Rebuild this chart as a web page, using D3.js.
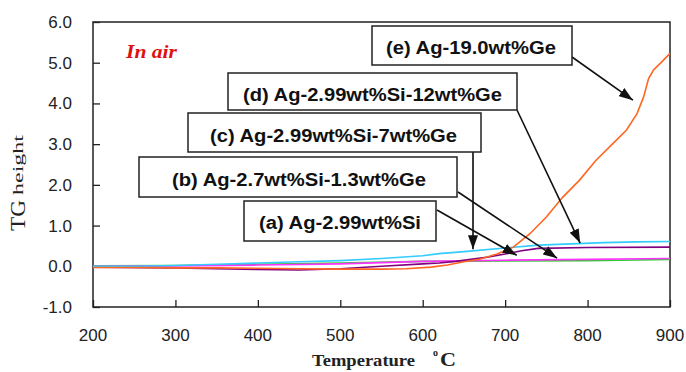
<!DOCTYPE html>
<html><head><meta charset="utf-8">
<script src="https://cdn.jsdelivr.net/npm/d3@7"></script>
<style>html,body{margin:0;padding:0;background:#fff;}svg{display:block;}</style>
</head><body>
<script>
// ---- data ----
const xTicks = [200,300,400,500,600,700,800,900];
const yTicks = [-1,0,1,2,3,4,5,6];

const tempE = [200,250,300,350,400,450,500,550,580,610,630,650,670,690,710,730,750,770,790,810,830,847,860,868,874,880,890,900];
const valE  = [-0.03,-0.03,-0.04,-0.04,-0.05,-0.06,-0.07,-0.07,-0.06,-0.02,0.03,0.11,0.18,0.30,0.47,0.80,1.21,1.70,2.11,2.60,3.00,3.34,3.75,4.16,4.61,4.82,5.02,5.23];

const tempC = [200,250,300,350,400,450,500,550,600,620,650,700,740,780,820,860,900];
const valC  = [0.0,0.0,0.02,0.05,0.08,0.11,0.14,0.19,0.26,0.31,0.36,0.45,0.52,0.55,0.58,0.60,0.61];

const tempD = [200,300,400,450,500,550,600,620,640,670,680,700,720,740,800,900];
const valD  = [-0.02,-0.04,-0.08,-0.09,-0.06,0.0,0.06,0.08,0.12,0.20,0.23,0.30,0.38,0.44,0.46,0.47];

const tempB = [200,300,400,500,600,700,800,900];
const valB  = [0.0,0.01,0.03,0.06,0.12,0.15,0.17,0.19];

const tempA = [200,300,400,500,600,700,800,840,900];
const valA  = [0.01,0.02,0.05,0.08,0.12,0.13,0.14,0.15,0.17];

const seriesNames = ["(a) Ag-2.99wt%Si","(b) Ag-2.7wt%Si-1.3wt%Ge","(c) Ag-2.99wt%Si-7wt%Ge","(d) Ag-2.99wt%Si-12wt%Ge","(e) Ag-19.0wt%Ge"];
// arrow tips in data coordinates (temperature, TG)
const tipT = [714, 763, 661, 791, 855];
const tipV = [0.27, 0.20, 0.42, 0.57, 4.08];

// ---- layout ----
const W = 686, H = 372;
const m = {l:93, t:22, r:670, b:307};
const x = d3.scaleLinear().domain([200,900]).range([m.l, m.r]);
const y = d3.scaleLinear().domain([-1,6]).range([m.b, m.t]);

const svg = d3.select("body").append("svg").attr("width",W).attr("height",H);
svg.append("rect").attr("width",W).attr("height",H).attr("fill","#fff");

svg.append("defs").append("marker")
  .attr("id","ah").attr("markerUnits","userSpaceOnUse")
  .attr("viewBox","0 0 14 10").attr("refX",14).attr("refY",5)
  .attr("markerWidth",14).attr("markerHeight",10).attr("orient","auto")
  .append("path").attr("d","M0,0 L14,5 L0,10 Z").attr("fill","#111");

// axes
const axL = svg.append("g").attr("transform",`translate(${m.l},0)`)
  .call(d3.axisRight(y).tickValues(yTicks).tickSize(7).tickFormat(""));
const axB = svg.append("g").attr("transform",`translate(0,${m.b})`)
  .call(d3.axisTop(x).tickValues(xTicks).tickSize(7).tickFormat(""));
[axL,axB].forEach(g=>{g.select(".domain").remove();g.selectAll("line").attr("stroke","#222").attr("stroke-width",1.3);});

svg.append("rect").attr("x",m.l).attr("y",m.t).attr("width",m.r-m.l).attr("height",m.b-m.t)
  .attr("fill","none").attr("stroke","#222").attr("stroke-width",1.5);

// tick labels
svg.append("g").selectAll("text").data(yTicks).join("text")
  .attr("x",72).attr("y",d=>y(d)+6).attr("text-anchor","end")
  .attr("font-family","Liberation Sans, Arial, sans-serif").attr("font-size",17).attr("fill","#222")
  .text(d=>d3.format(".1f")(d).replace("−","-"));
svg.append("g").selectAll("text").data(xTicks).join("text")
  .attr("x",d=>x(d)).attr("y",341).attr("text-anchor","middle")
  .attr("font-family","Liberation Sans, Arial, sans-serif").attr("font-size",17).attr("fill","#222")
  .text(d=>d);

// series
const line = d3.line().x(d=>x(d[0])).y(d=>y(d[1]));
const zip = (a,b)=>a.map((t,i)=>[t,b[i]]);
const series = [
  {t:tempA,v:valA,c:"#33cc33"},
  {t:tempB,v:valB,c:"#ff33ff"},
  {t:tempD,v:valD,c:"#800080"},
  {t:tempC,v:valC,c:"#33ccff"},
  {t:tempE,v:valE,c:"#ff6622"}
];
series.forEach(s=>{
  svg.append("path").attr("d",line(zip(s.t,s.v))).attr("fill","none")
    .attr("stroke",s.c).attr("stroke-width",1.6);
});

// annotation boxes (layout)
const boxes = [
  {x0:244,y0:201,x1:436,y1:241,tx:259,tw:162,by:228, ax:437, ay:210},
  {x0:139,y0:157,x1:457,y1:197,tx:172,tw:254,by:185, ax:458, ay:192},
  {x0:188,y0:113,x1:481,y1:152,tx:210,tw:247,by:141, ax:473, ay:152},
  {x0:228,y0:73, x1:517,y1:110,tx:243,tw:259,by:100, ax:517, ay:110},
  {x0:372,y0:26, x1:572,y1:65, tx:386,tw:170,by:53,  ax:572, ay:57}
];
boxes.forEach((b,i)=>{
  svg.append("line").attr("x1",b.ax).attr("y1",b.ay)
    .attr("x2",x(tipT[i])).attr("y2",y(tipV[i]))
    .attr("stroke","#111").attr("stroke-width",1.6).attr("marker-end","url(#ah)");
});
boxes.forEach((b,i)=>{
  svg.append("rect").attr("x",b.x0).attr("y",b.y0).attr("width",b.x1-b.x0).attr("height",b.y1-b.y0)
    .attr("fill","#fff").attr("stroke","#222").attr("stroke-width",1.5);
  svg.append("text").attr("x",b.tx).attr("y",b.by+0.5)
    .attr("font-family","Liberation Sans, Arial, sans-serif").attr("font-weight","bold")
    .attr("font-size",18).attr("fill","#111")
    .attr("textLength",b.tw).attr("lengthAdjust","spacingAndGlyphs")
    .text(seriesNames[i]);
});

// In air
svg.append("text").attr("x",126).attr("y",58)
  .attr("font-family","Liberation Serif, Times New Roman, serif").attr("font-weight","bold").attr("font-style","italic")
  .attr("font-size",18).attr("fill","#dd1111").attr("textLength",51).attr("lengthAdjust","spacingAndGlyphs")
  .text("In air");

// axis titles
const yt = svg.append("text").attr("transform","translate(25,231) rotate(-90)")
  .attr("font-family","Liberation Serif, Times New Roman, serif").attr("fill","#222");
yt.append("tspan").attr("font-size",20).attr("textLength",31).attr("lengthAdjust","spacingAndGlyphs").text("TG");
yt.append("tspan").attr("font-size",14).attr("dx",5).attr("dy",-2).attr("textLength",60).attr("lengthAdjust","spacingAndGlyphs").text("height");

svg.append("text").attr("x",312).attr("y",366)
  .attr("font-family","Liberation Serif, Times New Roman, serif").attr("font-weight","bold")
  .attr("font-size",17).attr("fill","#222").attr("textLength",103).attr("lengthAdjust","spacingAndGlyphs")
  .text("Temperature");
svg.append("text").attr("x",433).attr("y",356)
  .attr("font-family","Liberation Serif, Times New Roman, serif").attr("font-weight","bold")
  .attr("font-size",10).attr("fill","#222").text("o");
svg.append("text").attr("x",440).attr("y",366)
  .attr("font-family","Liberation Serif, Times New Roman, serif").attr("font-weight","bold")
  .attr("font-size",18).attr("fill","#222").attr("textLength",16).attr("lengthAdjust","spacingAndGlyphs")
  .text("C");
</script>
</body></html>
